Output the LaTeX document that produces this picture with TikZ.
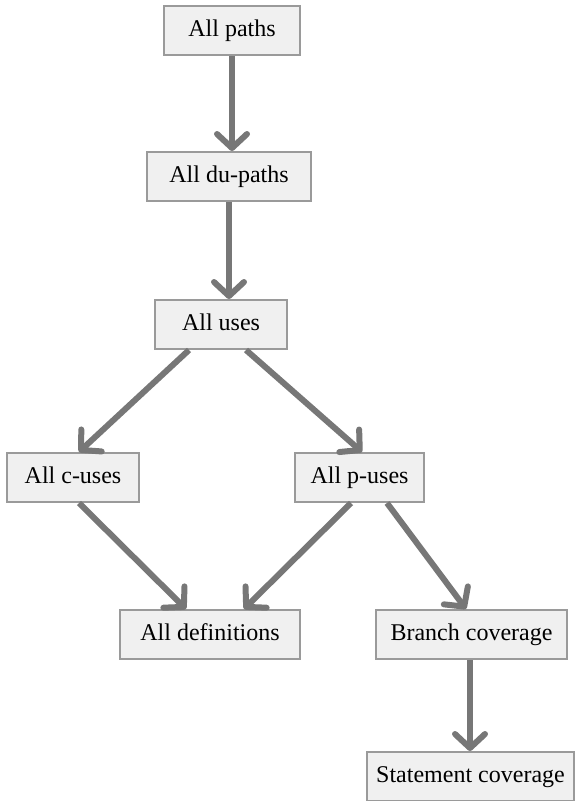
\documentclass[tikz,border=0pt]{standalone}
\usepackage{fontspec}
\setmainfont{Liberation Serif}
\usetikzlibrary{arrows.meta}
\definecolor{boxfill}{HTML}{F0F0F0}
\definecolor{boxline}{HTML}{9A9A9A}
\definecolor{arrowgray}{HTML}{777777}
\begin{document}
\begin{tikzpicture}[x=1pt,y=-1pt,
  stepbox/.style={draw=boxline, line width=2pt, fill=boxfill, minimum height=49pt,
    inner sep=0pt, text height=16pt, text depth=5pt, font=\fontsize{24}{28}\selectfont},
  flow/.style={draw=arrowgray, line width=6pt,
    -{Straight Barb[length=14pt,width=30pt,round]}}]
\useasboundingbox (0,0) rectangle (575,801);
\node[stepbox, minimum width=136pt] (paths) at (232,30.5) {All paths};
\node[stepbox, minimum width=164pt] (du) at (229,176.5) {All du-paths};
\node[stepbox, minimum width=132pt] (uses) at (221,324.5) {All uses};
\node[stepbox, minimum width=132pt] (cuses) at (73,477.5) {All c-uses};
\node[stepbox, minimum width=129pt] (puses) at (359.5,477.5) {All p-uses};
\node[stepbox, minimum width=180pt] (defs) at (210,634.5) {All definitions};
\node[stepbox, minimum width=191pt] (branch) at (471.5,634.5) {Branch coverage};
\node[stepbox, minimum width=207pt] (stmt) at (470.5,776.5) {Statement coverage};

\draw[flow] (paths.south) -- (paths.south |- du.north);
\draw[flow] (du.south) -- (du.south |- uses.north);
\draw[flow] ([xshift=35pt]uses.south west) -- ([xshift=73pt]cuses.north west);
\draw[flow] ([xshift=92pt]uses.south west) -- ([xshift=68pt]puses.north west);
\draw[flow] ([xshift=73pt]cuses.south west) -- ([xshift=67pt]defs.north west);
\draw[flow] ([xshift=57pt]puses.south west) -- ([xshift=125pt]defs.north west);
\draw[flow] ([xshift=93pt]puses.south west) -- ([xshift=91pt]branch.north west);
\draw[flow] ([xshift=-1.5pt]branch.south) -- ([xshift=-1.5pt]branch.south |- stmt.north);
\end{tikzpicture}
\end{document}
